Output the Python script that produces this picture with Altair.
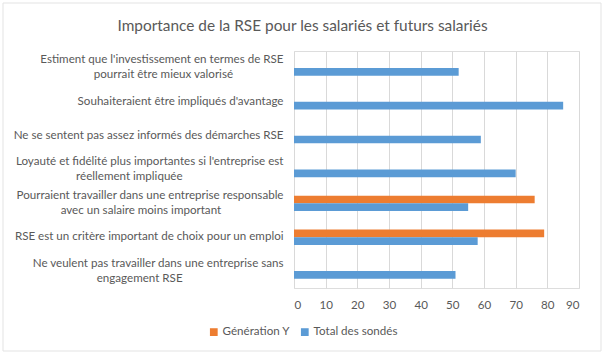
import altair as alt
import pandas as pd

categories = [
    "Estiment que l'investissement en termes de RSE|pourrait être mieux valorisé",
    "Souhaiteraient être impliqués d'avantage",
    "Ne se sentent pas assez informés des démarches RSE",
    "Loyauté et fidélité plus importantes si l'entreprise est|réellement impliquée",
    "Pourraient travailler dans une entreprise responsable|avec un salaire moins important",
    "RSE est un critère important de choix pour un emploi",
    "Ne veulent pas travailler dans une entreprise sans|engagement RSE",
]
series_names = ["Génération Y", "Total des sondés"]
generation_y = [None, None, None, None, 76, 79, None]
total_sondes = [52, 85, 59, 70, 55, 58, 51]
x_ticks = [0, 10, 20, 30, 40, 50, 60, 70, 80, 90]

NBSP = "\u00a0"
ZWSP = "\u200b"


def centered_label(text):
    # Right-aligned axis labels: pad shorter lines with no-break spaces
    # (closed by a zero-width space so they are not trimmed) so the lines
    # look centred on each other, as in the original.
    lines = text.split("|")
    if len(lines) == 1:
        return text
    longest = max(len(l) for l in lines)
    out = []
    for l in lines:
        n = int(round((longest - len(l)) * 5.3 / 2 / 2.8))
        out.append(l + NBSP * n + (ZWSP if n else ""))
    return "|".join(out)


labels = [centered_label(c) for c in categories]

rows = []
for c, g, t in zip(labels, generation_y, total_sondes):
    if g is not None:
        rows.append({"cat": c, "series": series_names[0], "value": g})
    if t is not None:
        rows.append({"cat": c, "series": series_names[1], "value": t})
df = pd.DataFrame(rows)

FONT = "Lato"
TXT = "#595959"
FS = 11.6

bars = alt.Chart(df).mark_bar().encode(
    y=alt.Y(
        "cat:N",
        sort=labels,
        scale=alt.Scale(domain=labels, paddingInner=0.545, paddingOuter=0.2725),
        axis=alt.Axis(
            title=None,
            labelExpr="split(datum.value, '|')",
            labelAlign="right",
            labelPadding=11,
            labelOffset={
                "condition": {"test": "indexof(datum.value, '|') >= 0", "value": -7.5},
                "value": 0,
            },
            ticks=False,
            domain=False,
            labelLimit=300,
            labelLineHeight=15,
            labelFontSize=FS,
            labelColor=TXT,
            labelFont=FONT,
        ),
    ),
    yOffset=alt.YOffset("series:N", sort=series_names, scale=alt.Scale(domain=series_names)),
    x=alt.X(
        "value:Q",
        scale=alt.Scale(domain=[0, 90], nice=False),
        axis=alt.Axis(
            title=None,
            values=x_ticks,
            grid=True,
            gridColor="#d9d9d9",
            ticks=False,
            domain=False,
            labelPadding=11,
            labelFontSize=FS,
            labelColor=TXT,
            labelFont=FONT,
        ),
    ),
    color=alt.Color(
        "series:N",
        sort=series_names,
        scale=alt.Scale(domain=series_names, range=["#ED7D31", "#5B9BD5"]),
        legend=alt.Legend(
            title=None,
            orient="none",
            direction="horizontal",
            legendX=-86,
            legendY=275,
            symbolType="square",
            symbolSize=60,
            symbolStrokeWidth=0,
            labelFontSize=FS,
            labelColor=TXT,
            labelFont=FONT,
            columnPadding=9,
            labelOffset=3,
        ),
    ),
)

frame = alt.Chart(pd.DataFrame({"a": [0]})).mark_rect(
    fill=None, stroke="#e3e3e3", strokeWidth=1
).encode(
    x=alt.value(-291), x2=alt.value(307), y=alt.value(-48), y2=alt.value(300)
)

chart = alt.layer(frame, bars).properties(
    width=285,
    height=237,
    padding={"left": 294, "top": 51, "right": 26, "bottom": 67},
    autosize=alt.AutoSizeParams(type="none"),
    title=alt.Title(
        "Importance de la RSE pour les salariés et futurs salariés",
        fontSize=15.4,
        font=FONT,
        fontWeight="normal",
        color=TXT,
        anchor="middle",
        frame="group",
        dx=-134,
        offset=-32,
    ),
).configure_view(stroke=None).configure(background="white")

chart.save("out.html", embed_options={"renderer": "svg", "actions": False})
